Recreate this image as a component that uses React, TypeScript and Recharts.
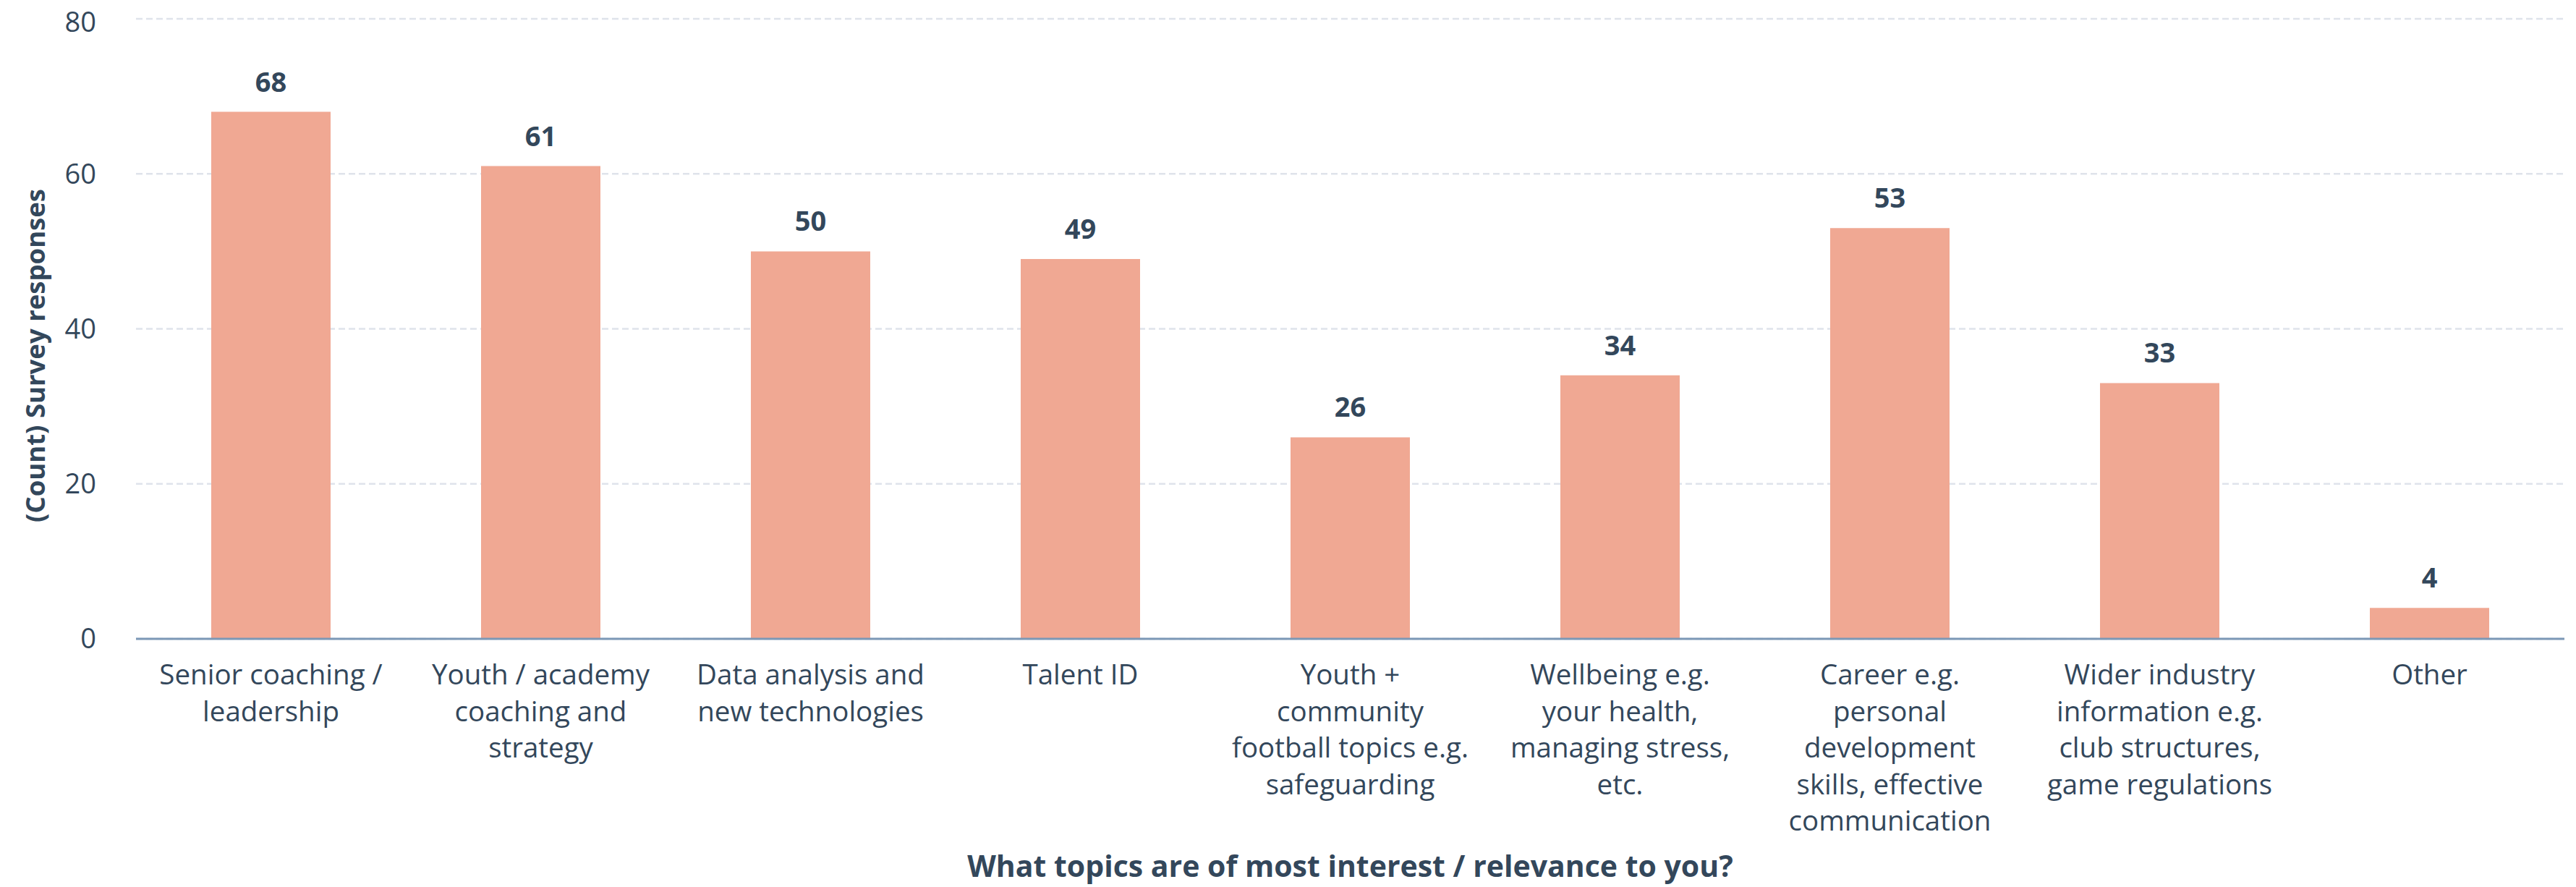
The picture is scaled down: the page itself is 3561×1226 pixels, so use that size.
import React from "react";
import { BarChart, Bar, XAxis, YAxis, CartesianGrid, LabelList } from "recharts";

const categories = [
  "Senior coaching /\nleadership",
  "Youth / academy\ncoaching and\nstrategy",
  "Data analysis and\nnew technologies",
  "Talent ID",
  "Youth +\ncommunity\nfootball topics e.g.\nsafeguarding",
  "Wellbeing e.g.\nyour health,\nmanaging stress,\netc.",
  "Career e.g.\npersonal\ndevelopment\nskills, effective\ncommunication",
  "Wider industry\ninformation e.g.\nclub structures,\ngame regulations",
  "Other",
];
const responses = [68, 61, 50, 49, 26, 34, 53, 33, 4];
const yTicks = [0, 20, 40, 60, 80];
const xTitle = "What topics are of most interest / relevance to you?";
const yTitle = "(Count) Survey responses";

const data = categories.map((c, i) => ({ topic: c, count: responses[i] }));

const TEXT = "#33475b";
const FONT = "'Open Sans', Lato, sans-serif";

const XTick = (props: any) => {
  const { x, y, payload } = props;
  const lines = String(payload.value).split("\n");
  return (
    <g transform={`translate(${x},${y})`}>
      {lines.map((l: string, i: number) => (
        <text key={i} x={0} y={63 + i * 50.5} textAnchor="middle" fill={TEXT} fontSize={38.5} fontFamily={FONT}>
          {l}
        </text>
      ))}
    </g>
  );
};

const XTitle = (props: any) => {
  const vb = props.viewBox || {};
  return (
    <text x={vb.x + vb.width / 2} y={vb.y + 329} textAnchor="middle" fill={TEXT} fontSize={41} fontWeight={700} fontFamily={FONT}>
      {xTitle}
    </text>
  );
};

const YTitle = (props: any) => {
  const vb = props.viewBox || {};
  const cx = 40;
  const cy = vb.y + vb.height / 2 + 37;
  return (
    <text x={cx} y={cy} transform={`rotate(-90, ${cx}, ${cy})`} textAnchor="middle" dominantBaseline="central" fill={TEXT} fontSize={36.5} fontWeight={700} fontFamily={FONT}>
      {yTitle}
    </text>
  );
};

export default function App() {
  return (
    <div style={{ width: 3553, height: 1218, background: "#fff" }}>
      <BarChart width={3553} height={1218} data={data} margin={{ top: 18, right: 16, left: 0, bottom: 0 }}>
        <CartesianGrid vertical={false} stroke="#dfe3eb" strokeWidth={2.5} strokeDasharray="9 5" />
        <XAxis
          dataKey="topic"
          interval={0}
          height={343}
          tickSize={0}
          tickMargin={0}
          tick={<XTick />}
          axisLine={{ stroke: "#7c98b6", strokeWidth: 3 }}
          tickLine={false}
          label={<XTitle />}
        />
        <YAxis
          domain={[0, 80]}
          ticks={yTicks}
          width={180}
          tickSize={0}
          tickMargin={55}
          axisLine={false}
          tickLine={false}
          tick={{ fill: TEXT, fontSize: 38, fontFamily: FONT }}
          label={<YTitle />}
        />
        <Bar dataKey="count" fill="#f0a893" barSize={165} isAnimationActive={false}>
          <LabelList dataKey="count" position="top" offset={28} fill={TEXT} fontSize={38} fontWeight={700} fontFamily={FONT} />
        </Bar>
      </BarChart>
    </div>
  );
}
